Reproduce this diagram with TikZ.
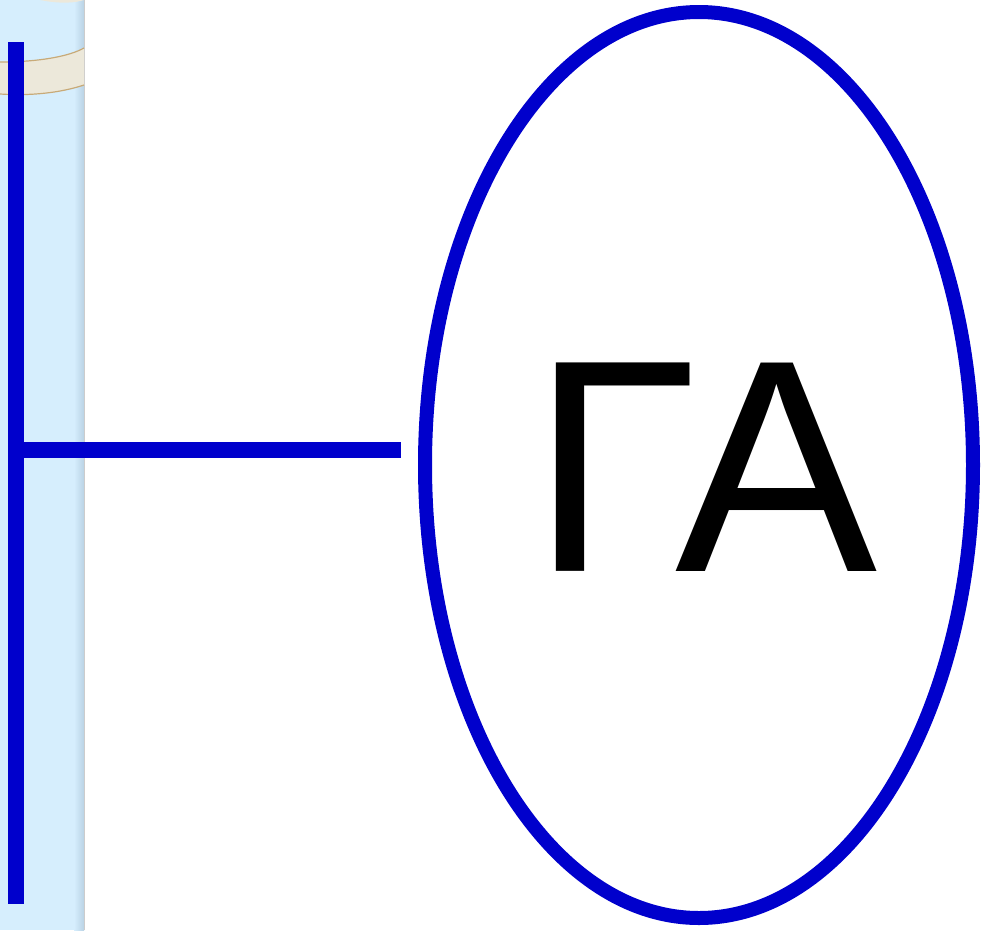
\documentclass[tikz,border=0pt]{standalone}
\usepackage{fontspec}
\setmainfont{Liberation Sans}
\usetikzlibrary{shapes.geometric}
\begin{document}
\begin{tikzpicture}[x=1pt,y=-1pt,
  wire/.style={draw=bluewire,line width=16pt},
  ringline/.style={draw=ringedge,line width=1.2pt}]
\definecolor{bluewire}{RGB}{0,0,204}
\definecolor{striplight}{RGB}{214,238,253}
\definecolor{stripdark}{RGB}{185,210,228}
\definecolor{ringfill}{RGB}{236,232,218}
\definecolor{ringedge}{RGB}{200,170,120}
\useasboundingbox (0,0) rectangle (986,930);
\fill[white] (0,0) rectangle (986,930);
% strip
\fill[striplight] (0,0) rectangle (76,930);
\shade[left color=striplight,right color=stripdark] (74,0) rectangle (84,930);
\fill[gray!40] (84,0) rectangle (85,930);
% ring band
\fill[ringfill] (0,62) .. controls (40,62) and (70,56) .. (84,48) -- (84,85) .. controls (60,93) and (30,96) .. (0,94) -- cycle;
\draw[ringline] (0,62) .. controls (40,62) and (70,56) .. (84,48);
\draw[ringline] (84,85) .. controls (60,93) and (30,96) .. (0,94);
\fill[ringfill] (40,0) .. controls (60,4) and (75,3) .. (84,0) -- cycle;
% wires
\coordinate (top) at (16,42);
\coordinate (bot) at (16,904);
\coordinate (tee) at (8,450);
\node[draw=bluewire,line width=14pt,ellipse,minimum width=548pt,minimum height=906pt,inner sep=0pt] (ga) at (699,465) {};
\draw[wire] (top) -- (bot);
\draw[wire] (tee) -- ([xshift=-17pt]ga.west |- tee);
\node[font=\fontsize{303}{303}\selectfont,text=black,inner sep=0pt] (lbl) at (704,467) {ГА};
\end{tikzpicture}
\end{document}
